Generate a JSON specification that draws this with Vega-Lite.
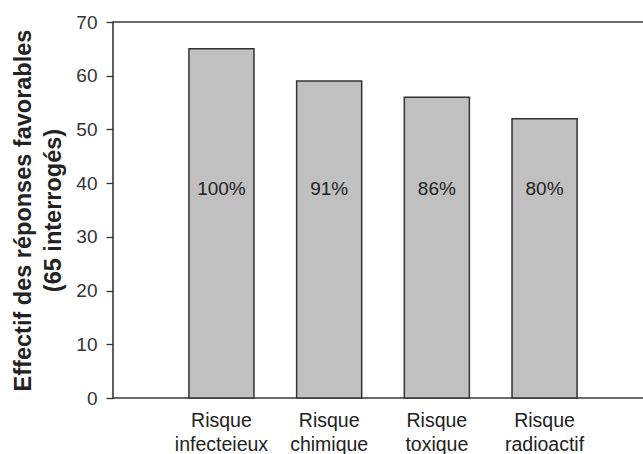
{
  "$schema": "https://vega.github.io/schema/vega-lite/v6.json",
  "autosize": {"type": "none"},
  "padding": {"left": 113, "top": 22, "right": 0, "bottom": 56},
  "width": 540,
  "height": 376,
  "background": "white",
  "config": {
    "font": "Liberation Sans",
    "view": {"stroke": "#3a3a3a", "strokeWidth": 1.6},
    "axis": {"grid": false, "domain": false}
  },
  "data": {
    "values": [
      {"risque": "Risque infecteieux", "effectif": 65, "pct": "100%"},
      {"risque": "Risque chimique", "effectif": 59, "pct": "91%"},
      {"risque": "Risque toxique", "effectif": 56, "pct": "86%"},
      {"risque": "Risque radioactif", "effectif": 52, "pct": "80%"}
    ]
  },
  "encoding": {
    "x": {
      "field": "risque",
      "type": "nominal",
      "sort": null,
      "scale": {"paddingInner": 0.396, "paddingOuter": 0.705},
      "axis": {
        "title": null,
        "ticks": false,
        "labelAngle": 0,
        "labelExpr": "split(datum.label, ' ')",
        "labelFontSize": 19.5,
        "labelColor": "#222222",
        "labelPadding": 13,
        "labelLineHeight": 24
      }
    }
  },
  "layer": [
    {
      "mark": {"type": "bar", "fill": "#c0c0c0", "stroke": "#333333", "strokeWidth": 1.5},
      "encoding": {
        "y": {
          "field": "effectif",
          "type": "quantitative",
          "scale": {"domain": [0, 70]},
          "axis": {
            "values": [0, 10, 20, 30, 40, 50, 60, 70],
            "tickSize": 7,
            "tickColor": "#333333",
            "tickWidth": 1.3,
            "labelFontSize": 19,
            "labelColor": "#333333",
            "labelPadding": 9,
            "title": ["Effectif des réponses favorables", "(65 interrogés)"],
            "titleFontSize": 23.5,
            "titleFontWeight": "bold",
            "titleColor": "#222222",
            "titleLineHeight": 30,
            "titlePadding": 10
          }
        }
      }
    },
    {
      "mark": {"type": "text", "fontSize": 19, "color": "#222222", "baseline": "middle"},
      "encoding": {
        "y": {"datum": 39, "type": "quantitative"},
        "text": {"field": "pct"}
      }
    }
  ]
}
